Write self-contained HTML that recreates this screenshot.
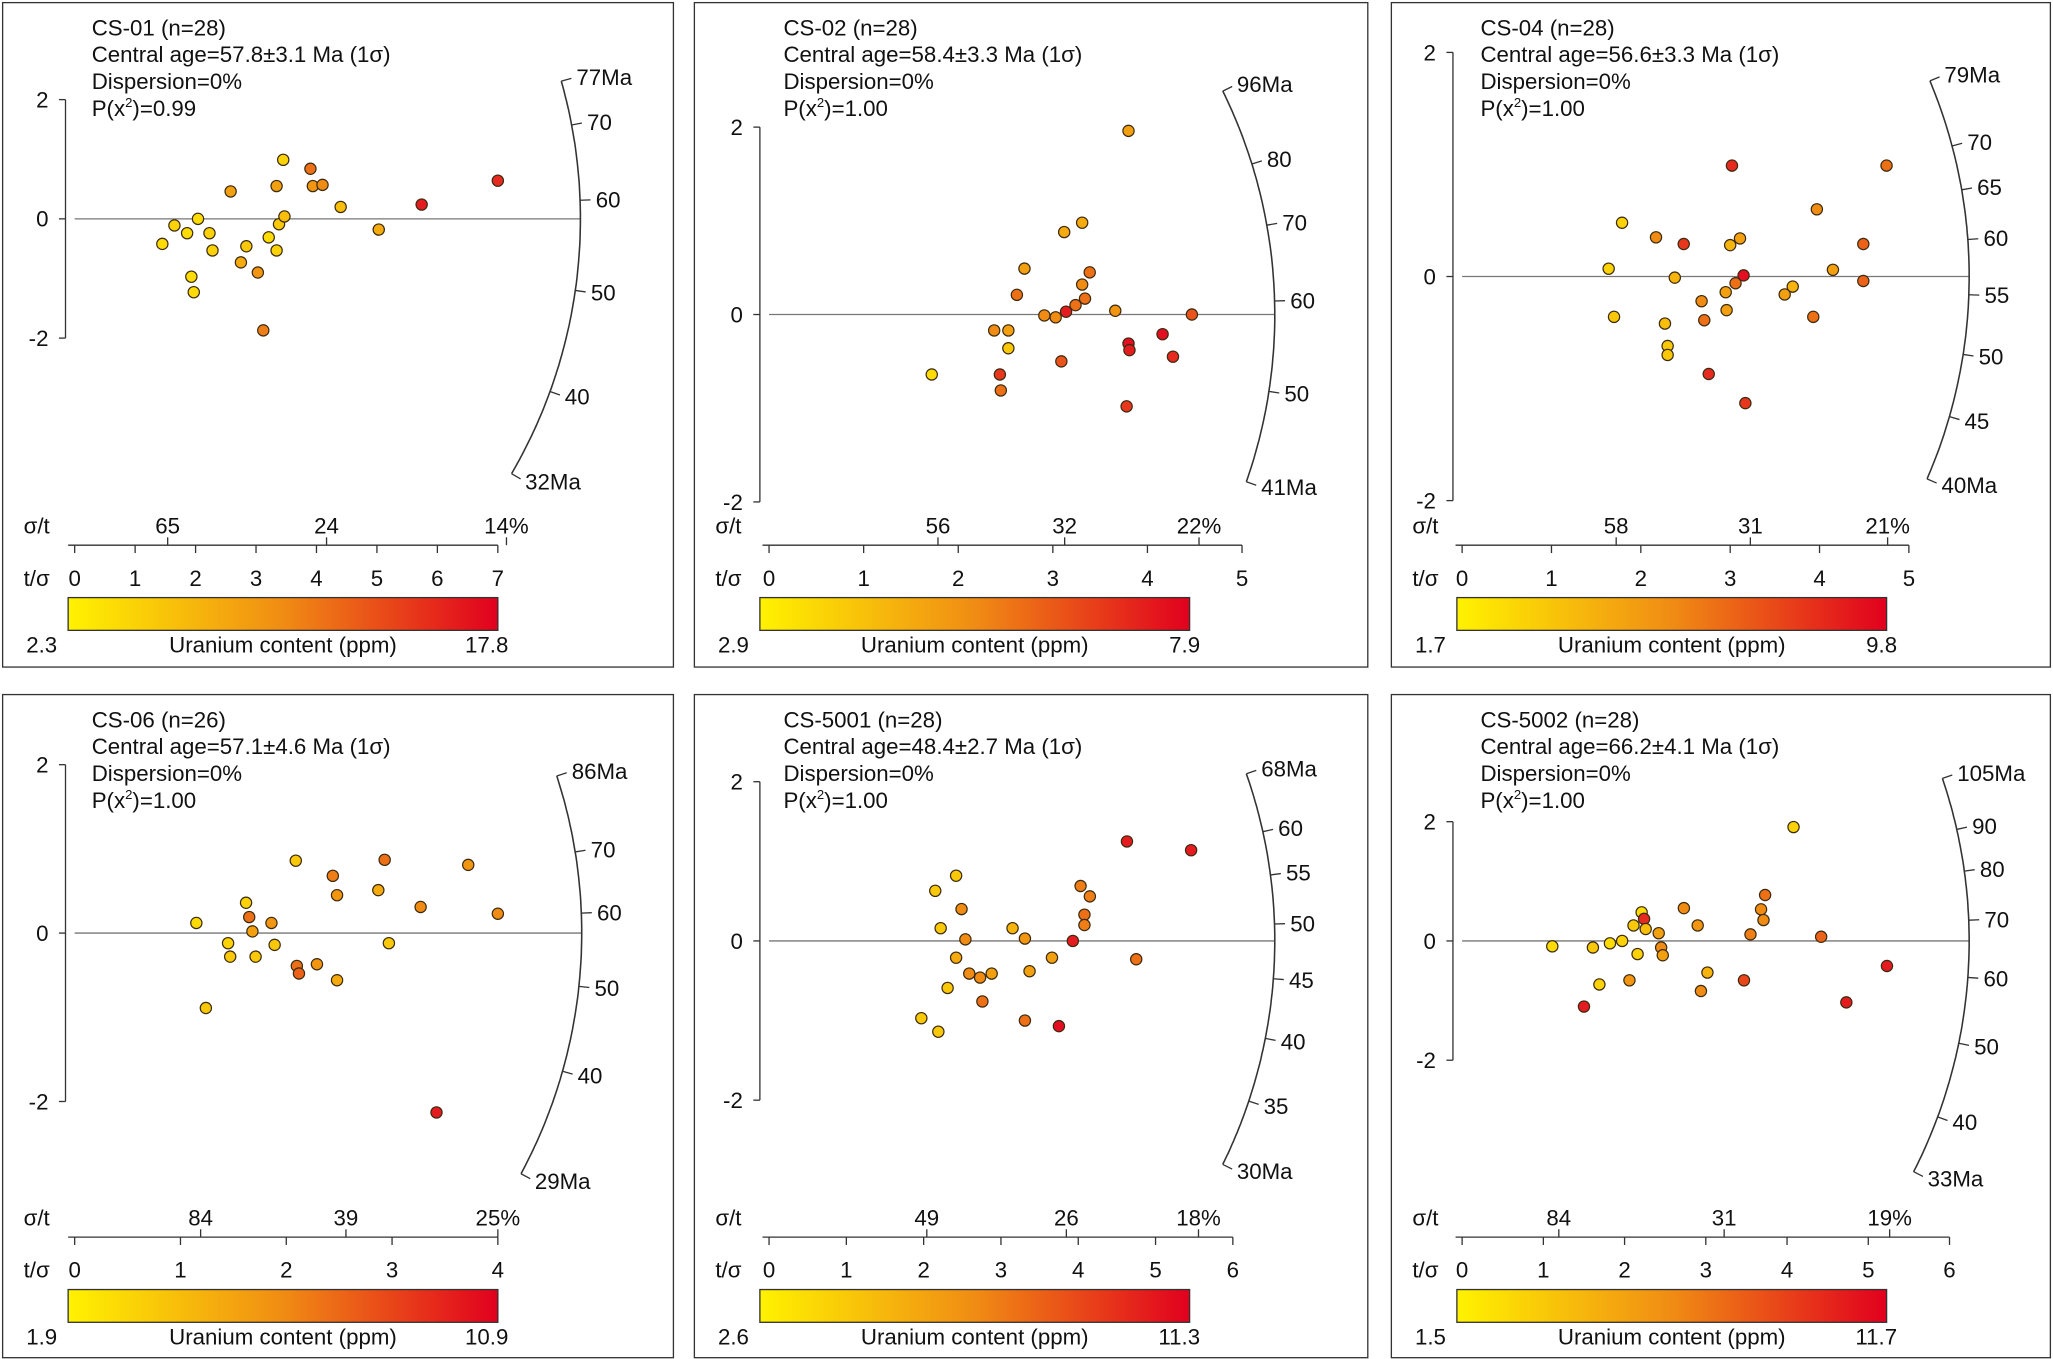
<!DOCTYPE html>
<html><head><meta charset="utf-8">
<style>
html,body{margin:0;padding:0;background:#fff;}
svg{display:block;font-family:"Liberation Sans",Arial,sans-serif;}
</style></head>
<body>
<svg id="chart" width="2053" height="1359" viewBox="0 0 1567 1037" preserveAspectRatio="none" xmlns="http://www.w3.org/2000/svg">
<defs>
<linearGradient id="ucg" x1="0" x2="1" y1="0" y2="0">
<stop offset="0" stop-color="#fff200"/><stop offset="0.5" stop-color="#f08c14"/><stop offset="1" stop-color="#e1001e"/>
</linearGradient>
</defs>
</svg>
<script>
// ---- data ----
const sampleNames = ["CS-01","CS-02","CS-04","CS-06","CS-5001","CS-5002"];
const sampleN = [28,28,28,26,28,28];
const centralAges = [57.8,58.4,56.6,57.1,48.4,66.2];
const centralErr = [3.1,3.3,3.3,4.6,2.7,4.1];
const pValues = ["0.99","1.00","1.00","1.00","1.00","1.00"];
const ageMin = [32,41,40,29,30,33];
const ageMax = [77,96,79,86,68,105];
const arcTicks = [[40,50,60,70],[50,60,70,80],[45,50,55,60,65,70],[40,50,60,70],[35,40,45,50,55,60],[40,50,60,70,80,90]];
const xMax = [7,5,5,4,6,6];
const sigmaLabels = [[65,24,14],[56,32,22],[58,31,21],[84,39,25],[49,26,18],[84,31,19]];
const uMin = ["2.3","2.9","1.7","1.9","2.6","1.5"];
const uMax = ["17.8","7.9","9.8","10.9","11.3","11.7"];
// points: t/sigma (x), standardized estimate (z), relative uranium (u)
const px1=[1.45,1.65,1.86,2.04,2.23,2.28,1.93,1.97,2.58,2.75,2.84,3.03,3.12,3.21,3.34,3.34,3.38,3.45,3.47,3.9,3.94,4.1,4.4,5.03,5.74,7.0];
const pz1=[-0.42,-0.11,-0.24,0,-0.24,-0.53,-0.97,-1.23,0.46,-0.73,-0.46,-0.9,-1.87,-0.31,-0.53,0.55,-0.09,0.99,0.04,0.84,0.55,0.57,0.2,-0.18,0.24,0.64];
const pu1=[.1,.15,.1,.1,.15,.15,.1,.1,.4,.35,.2,.45,.55,.1,.15,.4,.2,.15,.25,.6,.45,.5,.25,.35,.9,.85];
const px2=[1.72,2.38,2.53,2.53,2.44,2.45,2.62,2.7,2.91,3.03,3.12,3.09,3.14,3.24,3.31,3.31,3.34,3.39,3.66,3.8,3.78,3.8,3.81,4.16,4.27,4.47];
const pz2=[-0.64,-0.17,-0.17,-0.36,-0.64,-0.81,0.21,0.49,-0.01,-0.03,0.88,-0.5,0.03,0.1,0.98,0.32,0.17,0.45,0.04,1.96,-0.98,-0.31,-0.38,-0.21,-0.45,0];
const pu2=[.1,.5,.4,.2,.8,.6,.6,.4,.5,.5,.35,.7,.9,.6,.35,.5,.6,.6,.45,.4,.8,.95,.9,.95,.85,.7];
const px3=[1.64,1.7,1.79,2.17,2.27,2.3,2.3,2.38,2.48,2.68,2.71,2.76,2.95,2.96,3.0,3.02,3.06,3.11,3.15,3.17,3.61,3.7,3.93,3.97,4.15,4.49,4.49,4.75];
const pz3=[0.07,-0.36,0.48,0.35,-0.42,-0.62,-0.7,-0.01,0.29,-0.22,-0.39,-0.87,-0.14,-0.3,0.28,0.99,-0.06,0.34,0.01,-1.13,-0.16,-0.09,-0.36,0.6,0.06,0.29,-0.04,0.99];
const pu3=[.15,.2,.15,.5,.25,.2,.2,.3,.8,.5,.6,.85,.4,.4,.3,.85,.6,.4,.95,.8,.4,.3,.6,.5,.4,.65,.65,.6];
const px4=[1.15,1.24,1.45,1.47,1.62,1.65,1.68,1.71,1.86,1.89,2.09,2.1,2.12,2.29,2.44,2.48,2.48,2.87,2.93,2.97,3.27,3.42,3.72,4.0];
const pz4=[0.12,-0.89,-0.12,-0.28,0.36,0.19,0.02,-0.28,0.12,-0.14,0.86,-0.39,-0.48,-0.37,0.68,0.45,-0.56,0.51,0.87,-0.12,0.31,-2.13,0.81,0.23];
const pu4=[.1,.2,.15,.2,.15,.6,.4,.2,.45,.2,.2,.6,.65,.45,.55,.45,.35,.35,.6,.2,.5,.9,.45,.5];
const px5=[1.97,2.15,2.19,2.22,2.31,2.42,2.42,2.49,2.54,2.59,2.73,2.76,2.88,3.15,3.31,3.31,3.37,3.66,3.75,3.93,4.03,4.08,4.08,4.15,4.63,4.75,5.46];
const pz5=[-0.97,0.63,-1.14,0.16,-0.59,0.82,-0.21,0.4,0.02,-0.41,-0.46,-0.76,-0.41,0.16,0.03,-1.0,-0.38,-0.21,-1.07,0,0.69,0.33,0.2,0.56,1.25,-0.23,1.14];
const pu5=[.2,.2,.2,.2,.2,.2,.35,.5,.5,.5,.5,.6,.4,.3,.45,.6,.4,.4,.95,.9,.55,.6,.55,.55,.9,.6,.9];
const px6=[1.11,1.5,1.61,1.69,1.82,1.97,2.06,2.11,2.16,2.21,2.24,2.26,2.42,2.45,2.47,2.73,2.9,2.94,3.02,3.47,3.55,3.68,3.71,3.73,4.08,4.42,4.73,5.23];
const pz6=[-0.09,-1.1,-0.11,-0.73,-0.04,0,-0.66,0.26,-0.22,0.48,0.37,0.2,0.13,-0.11,-0.24,0.55,0.26,-0.84,-0.53,-0.66,0.11,0.53,0.35,0.77,1.91,0.07,-1.03,-0.42];
const pu6=[.1,.9,.2,.15,.1,.15,.45,.2,.15,.1,.85,.25,.4,.5,.4,.5,.45,.5,.3,.75,.55,.5,.5,.6,.15,.65,.9,.9];
const allX=[px1,px2,px3,px4,px5,px6], allZ=[pz1,pz2,pz3,pz4,pz5,pz6], allU=[pu1,pu2,pu3,pu4,pu5,pu6];

// ---- layout (not data) ----
const L = [
 {bx:2,by:2,bw:512,bh:507,ox:57,oy:167,xs:46.14,ys:45.5,R:386},
 {bx:530,by:2,bw:514,bh:507,ox:587,oy:240,xs:72.2,ys:71.5,R:386},
 {bx:1062,by:2,bw:503,bh:507,ox:1116,oy:211,xs:68.2,ys:85.5,R:387},
 {bx:2,by:530,bw:512,bh:506,ox:57,oy:712,xs:80.75,ys:64.25,R:387},
 {bx:530,by:530,bw:514,bh:506,ox:587,oy:718,xs:59,ys:60.75,R:386},
 {bx:1062,by:530,bw:503,bh:506,ox:1116,oy:718,xs:62,ys:45.5,R:387}
];
const svg=document.getElementById('chart');
const NS='http://www.w3.org/2000/svg';
function mk(tag,attrs,parent,text){const e=document.createElementNS(NS,tag);for(const k in attrs)e.setAttribute(k,attrs[k]);if(text!==undefined)e.textContent=text;(parent||svg).appendChild(e);return e;}
function ucol(u){const a=[255,240,0],b=[240,140,20],c=[225,0,35];let p,q,t;if(u<0.5){p=a;q=b;t=u/0.5}else{p=b;q=c;t=(u-0.5)/0.5}return 'rgb('+p.map((v,i)=>Math.round(v+(q[i]-v)*t)).join(',')+')';}

L.forEach((g,i)=>{
 const G=mk('g',{});
 
 
 const box=mk('rect',{x:g.bx,y:g.by,width:g.bw,height:g.bh,fill:'none',stroke:'#333','stroke-width':1},G);
 
 const X=v=>g.ox+v*g.xs, Y=v=>g.oy-v*g.ys;
 const t0=centralAges[i];
 const tx=g.bx+68, ty=g.by+25;
 const lines=[sampleNames[i]+' (n='+sampleN[i]+')','Central age='+t0.toFixed(1)+'\u00b1'+centralErr[i].toFixed(1)+' Ma (1\u03c3)','Dispersion=0%'];
 lines.forEach((s,k)=>{const t=mk('text',{x:tx,y:ty+k*20.5,'font-size':17,fill:'#111'},G,s);});
 const pt=mk('text',{x:tx,y:ty+3*20.5,'font-size':17,fill:'#111'},G);
 
 mk('tspan',{},pt,'P(x');mk('tspan',{'font-size':10,dy:-7},pt,'2');mk('tspan',{dy:7},pt,')='+pValues[i]);
 const yax=mk('line',{x1:g.ox-7,x2:g.ox-7,y1:Y(2),y2:Y(-2),stroke:'#333'},G);
 
 [2,0,-2].forEach(v=>{mk('line',{x1:g.ox-12,x2:g.ox-7,y1:Y(v),y2:Y(v),stroke:'#333'},G);
  const t=mk('text',{x:g.ox-20,y:Y(v)+6,'font-size':17,'text-anchor':'end',fill:'#111'},G,String(v));});
 const zl=mk('line',{x1:g.ox,x2:g.ox+g.R,y1:g.oy,y2:g.oy,stroke:'#777','stroke-width':1},G);
 
 const dir=t=>{const s=Math.log(t/t0);const dx=g.xs,dy=-s*g.ys;const n=Math.hypot(dx,dy);return [dx/n,dy/n];};
 let d='';const N=80;
 for(let k=0;k<=N;k++){const t=Math.exp(Math.log(ageMin[i])+(Math.log(ageMax[i])-Math.log(ageMin[i]))*k/N);const [ux,uy]=dir(t);d+=(k?'L':'M')+(g.ox+ux*g.R).toFixed(1)+','+(g.oy+uy*g.R).toFixed(1);}
 const arc=mk('path',{d:d,fill:'none',stroke:'#333','stroke-width':1.2},G);
 
 const tk=(t,lab)=>{const [ux,uy]=dir(t);mk('line',{x1:g.ox+ux*g.R,y1:g.oy+uy*g.R,x2:g.ox+ux*(g.R+8),y2:g.oy+uy*(g.R+8),stroke:'#333'},G);
  const tt=mk('text',{x:g.ox+ux*(g.R+12),y:g.oy+uy*(g.R+12)+6,'font-size':17,fill:'#111'},G,lab);};
 arcTicks[i].forEach(t=>tk(t,String(t)));
 tk(ageMax[i],ageMax[i]+'Ma');tk(ageMin[i],ageMin[i]+'Ma');
 const ay=g.by+414;
 const xl=mk('line',{x1:g.ox-5,x2:X(xMax[i]),y1:ay,y2:ay,stroke:'#333'},G);
 
 let lab=mk('text',{x:g.bx+16,y:ay-9,'font-size':17,fill:'#111'},G,'\u03c3/t');
 lab=mk('text',{x:g.bx+16,y:ay+31,'font-size':17,fill:'#111'},G,'t/\u03c3');
 sigmaLabels[i].forEach((p,k)=>{const xv=X(100/p);mk('line',{x1:xv,x2:xv,y1:ay-6,y2:ay,stroke:'#333'},G);
  const t=mk('text',{x:xv,y:ay-9,'font-size':17,'text-anchor':'middle',fill:'#111'},G,p+(k==2?'%':''));});
 for(let v=0;v<=xMax[i];v++){mk('line',{x1:X(v),x2:X(v),y1:ay,y2:ay+6,stroke:'#333'},G);
  const t=mk('text',{x:X(v),y:ay+31,'font-size':17,'text-anchor':'middle',fill:'#111'},G,String(v));}
 const cbx=g.bx+50, cby=g.by+454, cbw=328, cbh=25;
 const cb=mk('rect',{x:cbx,y:cby,width:cbw,height:cbh,fill:'url(#ucg)',stroke:'#333'},G);
 
 [[g.bx+18,uMin[i],'start','colorbar-min'],[cbx+cbw/2,'Uranium content (ppm)','middle','colorbar-title'],[cbx+cbw+8,uMax[i],'end','colorbar-max']].forEach(a=>{
  const t=mk('text',{x:a[0],y:cby+cbh+17,'font-size':17,'text-anchor':a[2],fill:'#111'},G,a[1]);});
 allX[i].forEach((xv,k)=>{const c=mk('circle',{cx:X(xv),cy:Y(allZ[i][k]),r:4.3,fill:ucol(allU[i][k]),stroke:'#3a2a10','stroke-width':0.9},G);
  
  });
});
</script>
</body></html>
